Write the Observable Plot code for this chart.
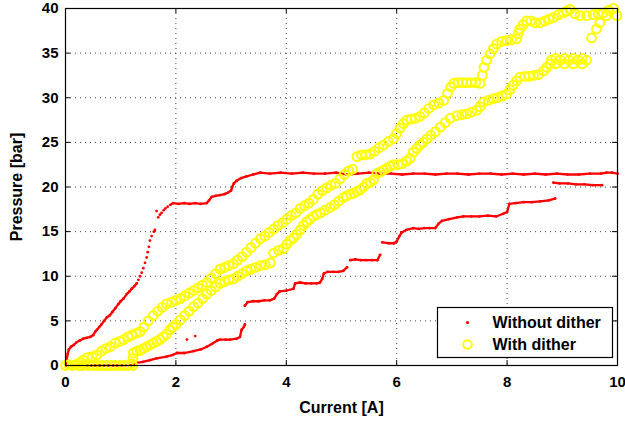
<!DOCTYPE html>
<html><head><meta charset="utf-8">
<script src="https://cdn.jsdelivr.net/npm/d3@7"></script>
<script src="https://cdn.jsdelivr.net/npm/@observablehq/plot@0.6"></script>
<style>
body{margin:0;background:#fff;}
#wrap{position:relative;width:625px;height:425px;}
#legend{position:absolute;left:0;top:0;}
</style></head><body><div id="wrap"></div>
<script>
// ---- tick values ----
const xTicks = [0, 2, 4, 6, 8, 10];
const yTicks = [0, 5, 10, 15, 20, 25, 30, 35, 40];
const seriesNames = ["Without dither", "With dither"];
const seriesColors = ["#ff0000", "#ffff00"];

// ---- Without dither (red), as [current, pressure] ----
const redRiseLow = [[0,0],[0.02,0.6],[0.04,1.3],[0.06,1.8],[0.1,2.1],[0.15,2.3],[0.2,2.6],[0.26,2.8],[0.32,3.0],[0.38,3.1],[0.45,3.2],[0.5,3.4],[0.54,3.8],[0.57,4.0],[0.61,4.3],[0.65,4.6],[0.7,5.0],[0.75,5.4],[0.8,5.6],[0.85,6.0],[0.9,6.4],[0.96,6.9],[1.0,7.2],[1.05,7.5],[1.11,8.0],[1.16,8.3],[1.2,8.6],[1.25,8.9],[1.29,9.2]];
const redRiseHigh = [[1.32,9.6],[1.35,10.0],[1.38,10.4],[1.41,10.9],[1.44,11.5],[1.47,12.1],[1.49,12.7],[1.51,13.3],[1.53,14.0],[1.56,14.5],[1.6,15.0],[1.62,15.2],[1.65,17.3],[1.68,16.6],[1.71,16.9],[1.74,17.1],[1.78,17.4],[1.81,17.6],[1.85,17.8],[2.2,2.9],[2.35,3.3]];
const redUpper = [[1.9,18.0],[1.95,18.2],[2.05,18.1],[2.15,18.2],[2.25,18.1],[2.35,18.2],[2.45,18.1],[2.56,18.2],[2.6,18.5],[2.65,18.9],[2.72,19.0],[2.8,19.1],[2.88,19.2],[2.95,19.4],[3.0,19.6],[3.02,20.0],[3.05,20.4],[3.1,20.7],[3.18,21.0],[3.28,21.2],[3.4,21.4],[3.53,21.6],[3.7,21.5],[3.9,21.6],[4.1,21.5],[4.3,21.6],[4.5,21.5],[4.7,21.5],[4.9,21.6],[5.1,21.4],[5.3,21.5],[5.5,21.6],[5.7,21.5],[5.9,21.5],[6.1,21.4],[6.3,21.5],[6.5,21.5],[6.7,21.4],[6.9,21.5],[7.1,21.5],[7.3,21.4],[7.5,21.5],[7.7,21.5],[7.9,21.4],[8.1,21.5],[8.3,21.4],[8.5,21.5],[8.7,21.4],[8.9,21.5],[9.1,21.4],[9.3,21.4],[9.5,21.5],[9.7,21.5],[9.8,21.6],[9.9,21.6],[10,21.5]];
const redStepTop = [[8.84,20.5],[8.95,20.4],[9.1,20.4],[9.25,20.3],[9.4,20.3],[9.55,20.2],[9.72,20.2]];
const redStepHigh = [[5.74,13.8],[5.85,13.7],[5.95,13.7],[6.0,13.9],[6.05,14.5],[6.09,14.9],[6.18,15.2],[6.3,15.4],[6.4,15.3],[6.5,15.4],[6.6,15.4],[6.7,15.4],[6.76,15.9],[6.82,16.2],[6.95,16.4],[7.1,16.6],[7.21,16.7],[7.35,16.7],[7.5,16.7],[7.65,16.8],[7.8,16.7],[7.93,17.0],[8.0,17.2],[8.04,18.1],[8.15,18.2],[8.3,18.3],[8.45,18.3],[8.6,18.4],[8.75,18.5],[8.87,18.7]];
const redStepMid = [[5.16,11.8],[5.25,11.9],[5.35,11.8],[5.45,11.8],[5.55,11.8],[5.65,11.8],[5.70,12.4]];
const redStepLow = [[3.25,6.7],[3.3,7.1],[3.4,7.2],[3.5,7.2],[3.6,7.3],[3.7,7.3],[3.78,7.5],[3.83,8.0],[3.88,8.3],[4.0,8.4],[4.13,8.6],[4.16,9.2],[4.25,9.3],[4.35,9.2],[4.45,9.2],[4.55,9.2],[4.61,9.3],[4.65,9.7],[4.68,10.3],[4.75,10.5],[4.85,10.5],[4.95,10.5],[5.03,10.6],[5.1,11.0]];
const redBottom = [[0,0],[0.3,0],[0.6,0],[0.9,0],[1.2,0.05],[1.29,0.3],[1.4,0.4],[1.53,0.6],[1.65,0.8],[1.83,1.0],[1.95,1.2],[2.02,1.4],[2.15,1.4],[2.32,1.6],[2.45,1.8],[2.56,2.1],[2.65,2.4],[2.75,2.8],[2.8,2.9],[2.9,2.9],[2.98,2.9],[3.1,3.0],[3.16,3.2],[3.19,4.0],[3.23,4.3],[3.25,4.6]];

// ---- With dither (yellow) ----
const yellowZero = [[0,0],[0.06,0.1],[0.12,0],[0.18,0.1],[0.24,0],[0.3,0],[0.36,0.1],[0.42,0],[0.5,0],[0.58,0],[0.66,0],[0.74,0],[0.82,0],[0.9,0],[0.98,0],[1.06,0],[1.14,0],[1.22,0]];
const yellowUp = [[0.25,0.3],[0.32,0.6],[0.4,0.9],[0.48,1.0],[0.57,1.2],[0.65,1.6],[0.73,1.9],[0.81,2.1],[0.9,2.5],[0.98,2.7],[1.05,2.9],[1.13,3.2],[1.2,3.4],[1.28,3.6],[1.35,3.8],[1.42,4.3],[1.5,5.0],[1.59,5.6],[1.67,6.1],[1.75,6.5],[1.83,6.9],[1.92,7.1],[2.0,7.3],[2.08,7.5],[2.16,7.8],[2.24,8.1],[2.32,8.4],[2.4,8.7],[2.48,9.0],[2.56,9.3],[2.64,9.8],[2.72,10.3],[2.80,10.8],[2.88,11.0],[2.96,11.2],[3.04,11.4],[3.12,11.8],[3.2,12.2],[3.28,12.7],[3.36,13.2],[3.44,13.7],[3.53,14.2],[3.61,14.5],[3.69,14.9],[3.77,15.3],[3.85,15.7],[3.93,16.0],[4.01,16.4],[4.09,16.8],[4.17,17.1],[4.25,17.6],[4.33,17.9],[4.41,18.2],[4.49,18.6],[4.57,19.2],[4.65,19.6],[4.73,19.9],[4.81,20.2],[4.89,20.4],[4.97,20.9],[5.05,21.4],[5.13,21.8],[5.2,22.0],[5.28,23.4],[5.36,23.6],[5.44,23.6],[5.52,23.7],[5.6,24.0],[5.68,24.4],[5.76,24.7],[5.85,25.1],[5.94,25.4],[6.0,26.0],[6.06,26.6],[6.12,27.1],[6.18,27.5],[6.26,27.6],[6.34,27.7],[6.42,27.9],[6.5,28.3],[6.58,28.8],[6.67,29.2],[6.76,29.4],[6.85,29.7],[6.92,30.5],[6.98,31.2],[7.03,31.6],[7.11,31.7],[7.19,31.7],[7.27,31.7],[7.35,31.7],[7.43,31.7],[7.51,31.6],[7.55,32.5],[7.58,33.4],[7.63,34.2],[7.69,34.9],[7.75,35.5],[7.81,36.0],[7.9,36.3],[7.99,36.4],[8.08,36.5],[8.17,36.6],[8.2,37.2],[8.23,37.7],[8.29,38.2],[8.35,38.6],[8.43,38.6],[8.51,38.4],[8.6,38.4],[8.68,38.6],[8.76,38.8],[8.84,39.0],[8.93,39.3],[9.02,39.5],[9.08,39.7],[9.14,39.9],[9.23,39.4],[9.32,39.2],[9.44,39.2],[9.56,39.3],[9.65,39.4],[9.74,39.5],[9.84,39.8],[9.93,40.0],[9.99,39.2],[9.8,39.2],[9.68,38.4],[9.62,37.7],[9.53,36.7]];
const yellowDown = [[9.44,34.2],[9.36,34.4],[9.28,34.2],[9.2,34.4],[9.12,34.2],[9.04,34.4],[8.96,34.2],[8.88,34.4],[8.8,34.2],[9.36,33.8],[9.2,33.8],[9.04,33.8],[8.88,33.8],[8.78,33.8],[8.72,33.4],[8.66,33.0],[8.57,32.6],[8.48,32.5],[8.4,32.4],[8.32,32.4],[8.23,32.3],[8.17,31.9],[8.11,31.4],[8.05,30.9],[7.99,30.4],[7.91,30.2],[7.83,30.0],[7.75,29.9],[7.66,29.7],[7.57,29.5],[7.51,29.0],[7.45,28.6],[7.36,28.4],[7.27,28.2],[7.18,28.1],[7.09,28.0],[6.97,27.7],[6.88,27.2],[6.79,26.7],[6.7,26.2],[6.62,25.8],[6.55,25.4],[6.48,25.0],[6.42,24.7],[6.36,24.3],[6.3,23.9],[6.24,23.2],[6.18,22.9],[6.1,22.6],[6.02,22.5],[5.94,22.5],[5.88,22.3],[5.82,22.1],[5.76,21.9],[5.7,21.7],[5.64,21.5],[5.58,20.8],[5.52,20.5],[5.46,20.4],[5.4,20.0],[5.34,19.7],[5.28,19.5],[5.22,19.3],[5.16,19.2],[5.09,19.0],[5.03,18.8],[4.95,18.4],[4.87,18.0],[4.79,17.7],[4.7,17.4],[4.62,17.1],[4.55,16.9],[4.49,16.7],[4.43,16.4],[4.37,16.1],[4.31,15.7],[4.25,15.2],[4.19,14.7],[4.13,14.3],[4.07,14.0],[4.01,13.6],[3.95,13.1],[3.86,12.9],[3.77,12.6],[3.71,11.5],[3.62,11.3],[3.53,11.2],[3.44,11.0],[3.36,10.8],[3.28,10.6],[3.2,10.3],[3.12,10.0],[3.04,9.7],[2.96,9.6],[2.88,9.4],[2.8,9.2],[2.72,8.8],[2.64,8.4],[2.56,8.0],[2.48,7.5],[2.4,7.0],[2.32,6.6],[2.24,6.1],[2.16,5.6],[2.08,5.1],[2.0,4.6],[1.94,4.3],[1.89,4.0],[1.83,3.5],[1.77,3.2],[1.71,2.9],[1.65,2.7],[1.59,2.5],[1.53,2.3],[1.47,2.1],[1.41,1.9],[1.35,1.7],[1.29,1.6],[1.23,1.4],[1.22,0.8],[1.2,0.2]];

// ---- build tables ----
const toRows = (arr, seg) => arr.map(([x, y]) => ({x, y, seg}));
const redLineSegs = [redRiseLow, redUpper, redStepTop, redStepHigh, redStepMid, redStepLow, redBottom];
const redLineRows = redLineSegs.flatMap((s, i) => toRows(s, i));
const redDotRows = redLineRows.concat(toRows(redRiseHigh, -1));
const yellowRows = toRows(yellowZero, 0).concat(toRows(yellowUp, 1), toRows(yellowDown, 2));

const W = 625, H = 425;
const mL = 65, mR = 8, mT = 8, mB = 60;
const plotW = W - mL - mR, plotH = H - mT - mB;
const tickLen = 5;
const font = '"Liberation Sans", Arial, Helvetica, sans-serif';

const chart = Plot.plot({
  width: W, height: H,
  marginLeft: mL, marginRight: mR, marginTop: mT, marginBottom: mB,
  style: {fontFamily: font, fontSize: "15px", fontWeight: "bold", color: "#000", background: "#fff"},
  x: {domain: [0, 10]},
  y: {domain: [0, 40]},
  marks: [
    Plot.gridX(xTicks, {stroke: "#000", strokeOpacity: 0.75, strokeDasharray: "1,4"}),
    Plot.gridY(yTicks, {stroke: "#000", strokeOpacity: 0.75, strokeDasharray: "1,4"}),
    Plot.tickX(xTicks, {x: d => d, insetTop: plotH - tickLen, stroke: "#000"}),
    Plot.tickX(xTicks, {x: d => d, insetBottom: plotH - tickLen, stroke: "#000"}),
    Plot.tickY(yTicks, {y: d => d, insetRight: plotW - tickLen, stroke: "#000"}),
    Plot.tickY(yTicks, {y: d => d, insetLeft: plotW - tickLen, stroke: "#000"}),
    Plot.line(redLineRows, {x: "x", y: "y", z: "seg", stroke: seriesColors[0], strokeWidth: 2.3}),
    Plot.dot(redDotRows, {x: "x", y: "y", r: 1.4, fill: seriesColors[0], stroke: "none"}),
    Plot.dot(yellowRows, {x: "x", y: "y", r: 4.4, stroke: seriesColors[1], strokeWidth: 2, fill: "none"}),
    Plot.frame({stroke: "#000", strokeWidth: 1.2}),
    Plot.axisX({ticks: xTicks, tickSize: 0, tickPadding: 11, label: "Current [A]", labelAnchor: "center", labelOffset: 47, labelArrow: "none", fontSize: 15}),
    Plot.axisY({ticks: yTicks, tickSize: 0, tickPadding: 7, label: "Pressure [bar]", labelAnchor: "center", labelOffset: 55, labelArrow: "none", fontSize: 15})
  ]
});
const wrap = document.getElementById("wrap");
wrap.appendChild(chart);
chart.querySelectorAll('g[aria-label="x-axis label"] text, g[aria-label="y-axis label"] text').forEach(t => t.style.fontSize = "16px");

// ---- legend (inside the plot, lower right) ----
const lg = d3.select(wrap).append("svg").attr("id", "legend").attr("width", W).attr("height", H)
  .style("font-family", font).style("font-weight", "bold").style("font-size", "16px");
const bx = 437.5, by = 307.5, bw = 175, bh = 50;
lg.append("rect").attr("x", bx).attr("y", by).attr("width", bw).attr("height", bh).attr("fill", "#fff").attr("stroke", "#000").attr("stroke-width", 1.2);
seriesNames.forEach((name, i) => {
  const cy = by + 15 + i * 22;
  if (i === 0) lg.append("circle").attr("cx", bx + 30).attr("cy", cy).attr("r", 1.6).attr("fill", seriesColors[0]);
  else lg.append("circle").attr("cx", bx + 30).attr("cy", cy).attr("r", 4.3).attr("fill", "none").attr("stroke", seriesColors[1]).attr("stroke-width", 2);
  lg.append("text").attr("x", bx + 55).attr("y", cy).attr("dy", "0.35em").text(name);
});
</script></body></html>
